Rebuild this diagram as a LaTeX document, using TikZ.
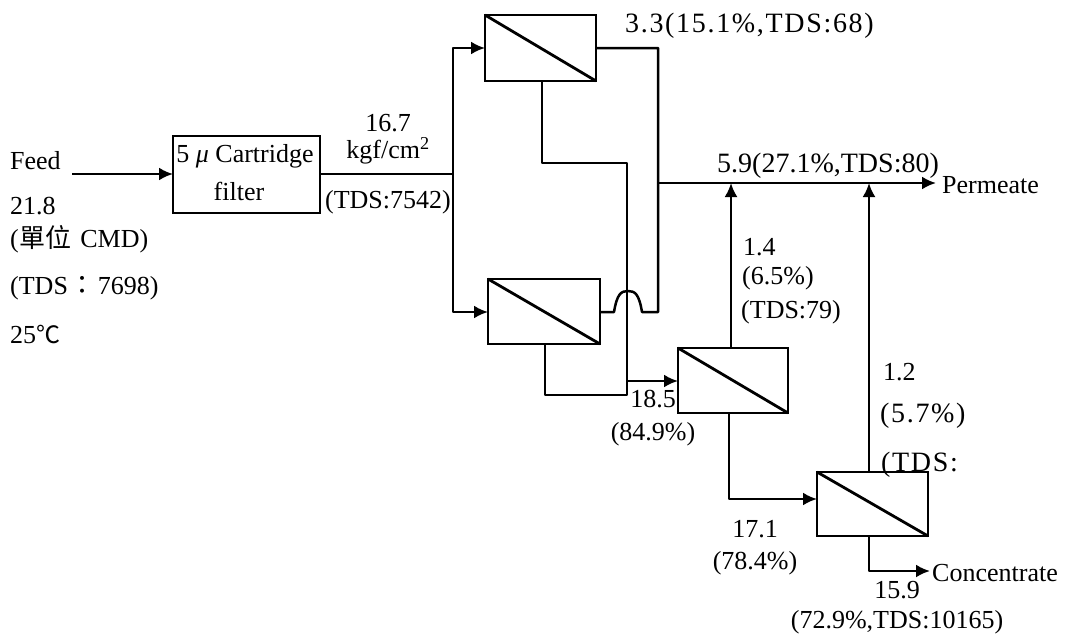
\documentclass[tikz,border=0pt]{standalone}
\usepackage{fontspec}
\setmainfont{Liberation Serif}
\newfontfamily\cjkfont{Noto Sans CJK TC}
\newfontfamily\widefont[LetterSpace=6]{Liberation Serif}
\usetikzlibrary{arrows.meta}
\tikzset{
  flow/.style={line width=2.5pt,line join=round,-{Latex[length=14pt,width=13pt]}},
  pipe/.style={line width=2.5pt,line join=round},
  rebox/.style={draw,line width=2.6pt,anchor=north west,minimum width=#1,inner sep=0pt,outer sep=0pt},
  lw/.style={anchor=west,inner sep=0pt,yshift=-1.5pt,font=\fontsize{26}{28}\selectfont},
  lc/.style={anchor=center,inner sep=0pt,yshift=-1.5pt,font=\fontsize{26}{28}\selectfont},
  big/.style={anchor=west,inner sep=0pt,yshift=-2pt,font=\fontsize{28}{30}\selectfont},
  bigwide/.style={anchor=west,inner sep=0pt,yshift=-2pt,font=\widefont\fontsize{28}{30}\selectfont},
}
\begin{document}
\begin{tikzpicture}[x=1pt,y=-1pt]
\useasboundingbox (0,0) rectangle (1078,637);
% boxes
\node[rebox=147pt,minimum height=77pt] (filter) at (173,136) {};
\node[rebox=111pt,minimum height=66pt] (roa) at (485,15) {};
\node[rebox=112pt,minimum height=65pt] (rob) at (488,279) {};
\node[rebox=110pt,minimum height=65pt] (roc) at (678,348) {};
\node[rebox=111pt,minimum height=64pt] (rod) at (817,472) {};
\foreach \n in {roa,rob,roc,rod}{\draw[line width=2.8pt] (\n.north west) -- (\n.south east);}
% free ends and junctions
\coordinate (feedstart) at (72,174);
\coordinate (split) at (453,174);
\coordinate (upc) at (453,48);
\coordinate (downc) at (453,312);
\coordinate (aout) at (596,48);
\coordinate (acorner) at (658,48);
\coordinate (bjoin) at (658,312);
\coordinate (humpr) at (642,312);
\coordinate (humpl) at (614,312);
\coordinate (perma) at (658,183);
\coordinate (permend) at (936,183);
\coordinate (abot) at (542,81);
\coordinate (abend) at (542,163);
\coordinate (abend2) at (627,163);
\coordinate (bbot) at (545,344);
\coordinate (bbend) at (545,395);
\coordinate (bbend2) at (627,395);
\coordinate (cin) at (627,381);
\coordinate (ctop) at (731,348);
\coordinate (cperm) at (731,183);
\coordinate (dtop) at (869,472);
\coordinate (dperm) at (869,183);
\coordinate (cbot) at (729,413);
\coordinate (cbend) at (729,499);
\coordinate (dbot) at (869,536);
\coordinate (dbend) at (869,571);
\coordinate (concend) at (930,571);
% connectors
\draw[flow] (feedstart) -- (feedstart -| filter.west);
\draw[pipe] (filter.east |- split) -- (split);
\draw[flow] (split) -- (upc) -- (upc -| roa.west);
\draw[flow] (split) -- (downc) -- (downc -| rob.west);
\draw[pipe] (aout) -- (acorner) -- (bjoin) -- (humpr)
  .. controls (639,294) and (635,291) .. (628,291)
  .. controls (621,291) and (617,294) .. (614,312) -- (rob.east |- humpl);
\draw[flow] (perma) -- (permend);
\draw[pipe] (abot) -- (abend) -- (abend2) -- (bbend2) -- (bbend) -- (bbot);
\draw[flow] (cin) -- (cin -| roc.west);
\draw[flow] (ctop) -- (cperm);
\draw[flow] (dtop) -- (dperm);
\draw[flow] (cbot) -- (cbend) -- (cbend -| rod.west);
\draw[flow] (dbot) -- (dbend) -- (concend);
% labels
\node[lw] (feed) at (10,159) {Feed};
\node[lw] (qf) at (10,205) {21.8};
\node[lw] (unit) at (10,238) {(\kern1pt{\cjkfont\fontsize{26}{28}\selectfont 單位}\kern2pt{} CMD)};
\node[lw] (tdsf) at (10,287) {(TDS\kern2pt{\cjkfont\fontsize{26}{28}\selectfont ：}\kern2pt 7698)};
\node[lw] (temp) at (10,333) {25{\cjkfont\fontsize{24}{26}\selectfont ℃}};
\node[lc] (fa) at (245,155) {5 \textit{μ} Cartridge};
\node[lc] (fb) at (239,190) {filter};
\node[lc] (pa) at (388,122) {16.7};
\node[lc] (pb) at (388,149) {kgf/cm\textsuperscript{2}};
\node[lc] (pc) at (388,201) {(TDS:7542)};
\node[bigwide] (ra) at (625,24) {3.3(15.1\%,TDS:68)};
\node[big] (rp) at (717,164) {5.9(27.1\%,TDS:80)};
\node[lw] (perm) at (942,184) {Permeate};
\node[lw] (c1) at (743,246) {1.4};
\node[lw] (c2) at (742,277) {(6.5\%)};
\node[lw] (c3) at (741,311) {(TDS:79)};
\node[lc] (e1) at (653,398) {18.5};
\node[lc] (e2) at (653,433) {(84.9\%)};
\node[lw] (d1) at (883,371) {1.2};
\node[bigwide] (d2) at (880,414) {(5.7\%)};
\node[bigwide] (d3) at (881,463) {(TDS:};
\node[lc] (g1) at (755,528) {17.1};
\node[lc] (g2) at (755,562) {(78.4\%)};
\node[lw] (conc) at (932,572) {Concentrate};
\node[lc] (h1) at (897,589) {15.9};
\node[lc] (h2) at (897,621) {(72.9\%,TDS:10165)};
\end{tikzpicture}
\end{document}
